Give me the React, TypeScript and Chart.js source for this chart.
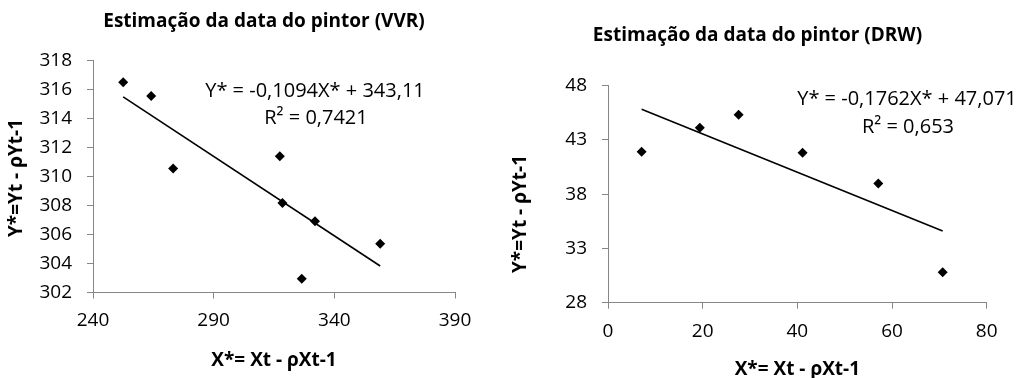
import { useEffect, useRef } from "react";
import { Chart, registerables } from "chart.js";

Chart.register(...registerables);

// ---------- data ----------
const vvrX = [252.5, 264.1, 273.2, 317.4, 318.5, 332.0, 326.5, 359.0];
const vvrY = [316.5, 315.55, 310.55, 311.4, 308.17, 306.92, 302.94, 305.36];
const vvrTrendX = [252.5, 359.0];
const vvrTrendY = [315.49, 303.83];
const vvrXTicks = [240, 290, 340, 390];
const vvrYTicks = [302, 304, 306, 308, 310, 312, 314, 316, 318];
const vvrTitle = "Estimação da data do pintor (VVR)";
const vvrEquation = ["Y* = -0,1094X* + 343,11", "R² = 0,7421"];

const drwX = [7.1, 19.4, 27.6, 41.1, 57.1, 70.7];
const drwY = [41.9, 44.1, 45.3, 41.8, 38.97, 30.8];
const drwTrendX = [7.1, 70.7];
const drwTrendY = [45.82, 34.61];
const drwXTicks = [0, 20, 40, 60, 80];
const drwYTicks = [28, 33, 38, 43, 48];
const drwTitle = "Estimação da data do pintor (DRW)";
const drwEquation = ["Y* = -0,1762X* + 47,071", "R² = 0,653"];

const xAxisTitle = "X*= Xt - ρXt-1";
const yAxisTitle = "Y*=Yt - ρYt-1";

const FONT = "'Open Sans', 'Noto Sans', sans-serif";
const AXIS = "#868686";

type TextItem = { text: string; x: number; y: number; bold?: boolean; size: number; rotate?: boolean };

function makeTextPlugin(items: TextItem[]) {
  return {
    id: "freeTexts",
    afterDraw(chart: any) {
      const ctx = chart.ctx as CanvasRenderingContext2D;
      for (const t of items) {
        ctx.save();
        ctx.font = `${t.bold ? "bold " : ""}${t.size}px ${FONT}`;
        ctx.fillStyle = "#000";
        ctx.textAlign = "center";
        ctx.textBaseline = "middle";
        ctx.translate(t.x, t.y);
        if (t.rotate) ctx.rotate(-Math.PI / 2);
        ctx.fillText(t.text, 0, 0);
        ctx.restore();
      }
    },
  };
}

type Cfg = {
  xs: number[];
  ys: number[];
  tx: number[];
  ty: number[];
  xTicks: number[];
  yTicks: number[];
  width: number;
  plotLeft: number;
  plotRight: number;
  plotTop: number;
  plotBottom: number;
  xTitlePad: number;
  texts: TextItem[];
};

function buildChart(canvas: HTMLCanvasElement, c: Cfg) {
  const H = 378;
  const gridOpts = {
    display: true,
    drawOnChartArea: false,
    drawTicks: true,
    tickLength: 6,
    color: AXIS,
    lineWidth: 1,
  };
  return new Chart(canvas, {
    type: "scatter",
    data: {
      datasets: [
        {
          label: "pontos",
          data: c.xs.map((x, i) => ({ x, y: c.ys[i] })),
          pointStyle: "rectRot",
          pointRadius: 5,
          pointHoverRadius: 5,
          backgroundColor: "#000",
          borderColor: "#000",
          borderWidth: 0,
          showLine: false,
        },
        {
          label: "tendência",
          data: c.tx.map((x, i) => ({ x, y: c.ty[i] })),
          showLine: true,
          pointRadius: 0,
          borderColor: "#000",
          borderWidth: 1.6,
          backgroundColor: "#000",
        },
      ],
    },
    options: {
      responsive: false,
      animation: false,
      events: [],
      layout: {
        padding: {
          left: 0,
          top: c.plotTop,
          right: c.width - c.plotRight,
          bottom: 0,
        },
      },
      plugins: {
        legend: { display: false },
        title: { display: false },
        tooltip: { enabled: false },
      },
      scales: {
        x: {
          type: "linear",
          min: c.xTicks[0],
          max: c.xTicks[c.xTicks.length - 1],
          afterBuildTicks: (s: any) => {
            s.ticks = c.xTicks.map((v) => ({ value: v }));
          },
          afterFit: (s: any) => {
            s.height = H - c.plotBottom;
          },
          grid: gridOpts,
          border: { display: true, color: AXIS, width: 1 },
          ticks: {
            color: "#000",
            padding: 11,
            font: { family: FONT, size: 19 },
          },
          title: {
            display: true,
            text: xAxisTitle,
            color: "#000",
            font: { family: FONT, size: 19, weight: "bold" },
            padding: { top: 0, bottom: c.xTitlePad },
          },
        },
        y: {
          type: "linear",
          min: c.yTicks[0],
          max: c.yTicks[c.yTicks.length - 1],
          afterBuildTicks: (s: any) => {
            s.ticks = c.yTicks.map((v) => ({ value: v }));
          },
          afterFit: (s: any) => {
            s.width = c.plotLeft;
          },
          grid: gridOpts,
          border: { display: true, color: AXIS, width: 1 },
          ticks: {
            color: "#000",
            padding: 15,
            font: { family: FONT, size: 19 },
          },
        },
      },
    },
    plugins: [makeTextPlugin(c.texts)],
  } as any);
}

function ChartBox(props: { left: number; cfg: Cfg }) {
  const ref = useRef<HTMLCanvasElement | null>(null);
  useEffect(() => {
    if (!ref.current) return;
    const ch = buildChart(ref.current, props.cfg);
    return () => ch.destroy();
  }, []);
  return (
    <div style={{ position: "absolute", left: props.left, top: 0, width: props.cfg.width, height: 378 }}>
      <canvas ref={ref} width={props.cfg.width} height={378} style={{ display: "block" }} />
    </div>
  );
}

const LEFT_W = 505;
const RIGHT_X = 505;
const RIGHT_W = 514;

const leftCfg: Cfg = {
  xs: vvrX,
  ys: vvrY,
  tx: vvrTrendX,
  ty: vvrTrendY,
  xTicks: vvrXTicks,
  yTicks: vvrYTicks,
  width: LEFT_W,
  plotLeft: 93,
  plotRight: 455,
  plotTop: 60.5,
  plotBottom: 292.5,
  xTitlePad: 6,
  texts: [
    { text: vvrTitle, x: 264, y: 22, bold: true, size: 19 },
    { text: yAxisTitle, x: 17, y: 178, bold: true, size: 19, rotate: true },
    { text: vvrEquation[0], x: 315, y: 91, size: 20 },
    { text: vvrEquation[1], x: 316, y: 118, size: 20 },
  ],
};

const rightCfg: Cfg = {
  xs: drwX,
  ys: drwY,
  tx: drwTrendX,
  ty: drwTrendY,
  xTicks: drwXTicks,
  yTicks: drwYTicks,
  width: RIGHT_W,
  plotLeft: 608 - RIGHT_X,
  plotRight: 986.7 - RIGHT_X,
  plotTop: 85.5,
  plotBottom: 302.7,
  xTitlePad: -3,
  texts: [
    { text: drwTitle, x: 757.5 - RIGHT_X, y: 36, bold: true, size: 19 },
    { text: yAxisTitle, x: 521 - RIGHT_X, y: 214, bold: true, size: 19, rotate: true },
    { text: drwEquation[0], x: 907 - RIGHT_X, y: 99, size: 20 },
    { text: drwEquation[1], x: 908 - RIGHT_X, y: 127, size: 20 },
  ],
};

export default function App() {
  return (
    <div style={{ position: "absolute", left: 0, top: 0, width: 1019, height: 378, background: "#fff", overflow: "hidden" }}>
      <ChartBox left={0} cfg={leftCfg} />
      <ChartBox left={RIGHT_X} cfg={rightCfg} />
    </div>
  );
}
